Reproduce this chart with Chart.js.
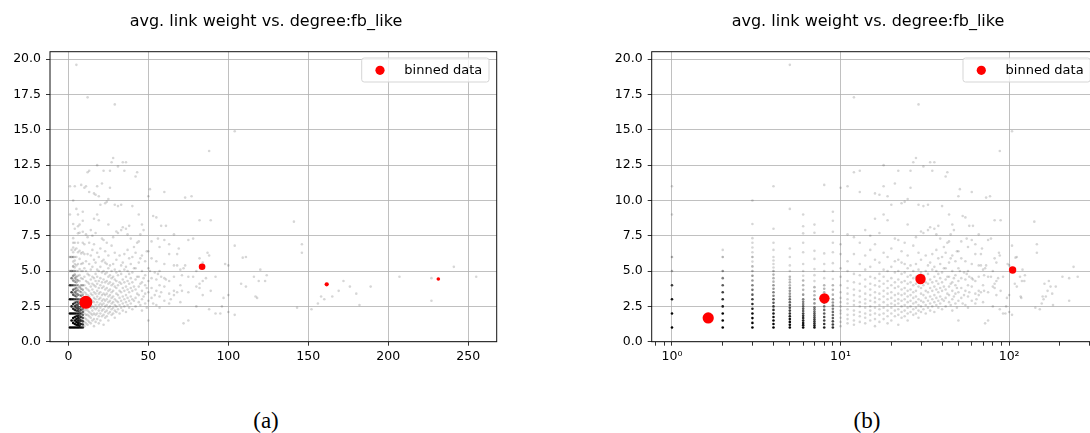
<!DOCTYPE html>
<html>
<head>
<meta charset="utf-8">
<script src="https://cdn.jsdelivr.net/npm/chart.js@4"></script>
<style>
  body { margin: 0; width: 1090px; height: 433px; overflow: hidden; background: #fff; position: relative; font-family: "DejaVu Sans", sans-serif; }
  .panel { position: absolute; top: 0; }
  .title { position: absolute; top: 13px; font-size: 16px; line-height: 16px; white-space: nowrap; transform: translateX(-50%); color: #000; }
  .caption { position: absolute; top: 409px; font-family: "Liberation Serif", serif; font-size: 23px; line-height: 23px; transform: translateX(-50%); color: #000; }
</style>
</head>
<body>
<div class="panel" style="left:0"><canvas id="chart-linear" width="545" height="380"></canvas></div>
<div class="panel" style="left:545px"><canvas id="chart-log" width="560" height="380"></canvas></div>
<div class="title" style="left:266px">avg. link weight vs. degree:fb_like</div>
<div class="title" style="left:868px">avg. link weight vs. degree:fb_like</div>
<div class="caption" style="left:266px">(a)</div>
<div class="caption" style="left:867px">(b)</div>
<script>
const yTicks = [0, 2.5, 5, 7.5, 10, 12.5, 15, 17.5, 20];
const linearTicks = [0, 50, 100, 150, 200, 250];
const logMajorTicks = [1, 10, 100];
const logMinorTicks = [0.8, 0.9, 2, 3, 4, 5, 6, 7, 8, 9, 20, 30, 40, 50, 60, 70, 80, 90, 200, 300];
const logTickLabels = { 1: "10\u2070", 10: "10\u00b9", 100: "10\u00b2" };

// red markers: linear degree bins (a) and log-spaced degree bins (b)
const linearBinDegree = [10.9, 83.6, 161.5, 231.3];
const linearBinWeight = [2.79, 5.31, 4.06, 4.44];
const logBinDegree = [1.64, 8.02, 29.8, 104.8];
const logBinWeight = [1.68, 3.07, 4.44, 5.08];

// low degree nodes pile up on the same spots: [degree, avg weight, nodes there]
const stackedNodes = [
  [1,1,40],[1,2,20],[1,3,14],[1,4,8],[1,5,2],[1,6,2],[1,9,1],[1,11,1],
  [2,1,45],[2,1.5,30],[2,2,28],[2,2.5,12],[2,3,10],[2,3.5,8],[2,4,6],[2,4.5,4],[2,5,3],[2,6,2],[2,6.5,1],
  [3,1,35],[3,1.33,25],[3,1.67,22],[3,2,18],[3,2.33,12],[3,2.67,10],[3,3,8],[3,3.33,6],[3,3.67,5],[3,4,4],[3,4.33,3],
  [3,4.67,3],[3,5,2],[3,5.33,2],[3,5.67,1],[3,6,2],[3,6.33,1],[3,6.67,1],[3,7,1],[3,7.33,1],[3,8.33,1],[3,10,1],
  [4,1,30],[4,1.25,22],[4,1.5,20],[4,1.75,15],[4,2,13],[4,2.25,10],[4,2.5,8],[4,2.75,6],[4,3,6],[4,3.25,4],[4,3.5,4],
  [4,3.75,3],[4,4,3],[4,4.25,2],[4,4.5,2],[4,4.75,2],[4,5,2],[4,5.25,1],[4,5.5,1],[4,5.75,1],[4,6,1],[4,6.5,1],[4,7,1],[4,8,1],[4,11,1],
  [5,1,25],[5,1.2,20],[5,1.4,18],[5,1.6,15],[5,1.8,12],[5,2,10],[5,2.2,8],[5,2.4,7],[5,2.6,6],[5,2.8,5],[5,3,5],[5,3.2,4],
  [5,3.4,3],[5,3.6,3],[5,3.8,3],[5,4,2],[5,4.2,2],[5,4.4,2],[5,4.6,2],[5,5,1],[5,5.4,1],[5,6,1],[5,6.6,1],[5,9.4,1],[5,19.6,1],
  [6,1,20],[6,1.17,15],[6,1.33,14],[6,1.5,12],[6,1.67,10],[6,1.83,9],[6,2,8],[6,2.17,6],[6,2.33,6],[6,2.5,5],[6,2.67,4],[6,2.83,4],
  [6,3,4],[6,3.33,3],[6,3.67,2],[6,4,2],[6,4.33,2],[6,4.67,1],[6,5,1],[6,5.5,1],[6,6.33,1],[6,7,1],[6,7.67,1],[6,8.17,1],[6,9,1],
  [7,1,15],[7,1.14,12],[7,1.29,10],[7,1.43,9],[7,1.57,8],[7,1.71,7],[7,1.86,6],[7,2,6],[7,2.14,5],[7,2.29,4],[7,2.43,4],[7,2.71,3],
  [7,3,3],[7,3.29,2],[7,3.57,2],[7,3.86,2],[7,4.29,1],[7,4.71,1],[7,5.14,1],[7,5.86,1],[7,6.43,1],[7,7.71,1],[7,8.29,1],
  [8,1,12],[8,1.25,9],[8,1.5,8],[8,1.75,7],[8,2,6],[8,2.25,5],[8,2.5,4],[8,2.75,4],[8,3,3],[8,3.25,3],[8,3.5,2],[8,3.75,2],
  [8,4,2],[8,4.5,1],[8,5,1],[8,5.5,1],[8,6.25,1],[8,11.1,1],
  [9,1,10],[9,1.22,8],[9,1.44,7],[9,1.67,6],[9,1.89,5],[9,2.11,5],[9,2.33,4],[9,2.56,4],[9,2.78,3],[9,3,3],[9,3.33,2],[9,3.67,2],
  [9,4,2],[9,4.44,1],[9,5,1],[9,5.56,1],[9,6.33,1],[9,7,1],[9,7.78,1],[9,8.56,1],[9,9.2,1],
];

// everything else: [degree, avg weight]
const scatterNodes = [
  [10,1.1],[10,1.4],[10,1.7],[10,2.0],[10,2.2],[10,2.5],[10,2.8],[10,3.1],[10,3.5],[10,4.0],[10,4.6],[10,5.2],[10,6.2],[10,6.9],[10,10.9],
  [11,1.3],[11,1.6],[11,1.9],[11,2.3],[11,2.7],[11,3.0],[11,3.4],[11,3.8],[11,4.3],[11,5.0],[11,5.7],[11,7.6],[11,11.0],
  [12,1.2],[12,1.5],[12,1.9],[12,2.2],[12,2.6],[12,2.9],[12,3.3],[12,3.7],[12,4.2],[12,4.8],[12,6.2],[12,7.4],[12,12.0],[12,17.3],
  [13,1.4],[13,1.8],[13,2.1],[13,2.5],[13,2.8],[13,3.2],[13,3.6],[13,4.1],[13,4.7],[13,5.5],[13,7.0],[13,10.6],[13,12.1],
  [14,1.3],[14,1.7],[14,2.0],[14,2.4],[14,2.7],[14,3.0],[14,3.4],[14,3.9],[14,4.4],[14,5.1],[14,6.1],[14,7.9],
  [15,1.5],[15,1.9],[15,2.2],[15,2.5],[15,2.9],[15,3.3],[15,3.7],[15,4.1],[15,4.6],[15,5.3],[15,6.5],[15,7.5],
  [16,1.1],[16,1.6],[16,2.0],[16,2.4],[16,2.8],[16,3.1],[16,3.5],[16,4.0],[16,4.5],[16,5.8],[16,6.9],[16,8.7],[16,10.5],
  [17,1.4],[17,1.9],[17,2.3],[17,2.6],[17,3.0],[17,3.4],[17,3.9],[17,4.3],[17,4.8],[17,5.6],[17,7.7],[17,10.4],
  [18,1.6],[18,2.0],[18,2.4],[18,2.8],[18,3.2],[18,3.6],[18,4.1],[18,4.6],[18,5.1],[18,6.3],[18,9.0],[18,11.0],[18,12.5],
  [19,1.3],[19,1.8],[19,2.2],[19,2.6],[19,3.0],[19,3.4],[19,3.8],[19,4.3],[19,5.0],[19,6.0],[19,8.6],[19,10.3],
  [20,1.5],[20,2.0],[20,2.4],[20,2.7],[20,3.1],[20,3.5],[20,4.0],[20,4.5],[20,5.3],[20,6.6],[20,9.7],
  [21,1.8],[21,2.2],[21,2.6],[21,2.9],[21,3.3],[21,3.8],[21,4.2],[21,4.9],[21,5.7],[21,7.3],[21,11.2],
  [22,1.2],[22,1.9],[22,2.3],[22,2.7],[22,3.0],[22,3.4],[22,3.9],[22,4.4],[22,5.0],[22,5.8],[22,7.2],[22,12.1],
  [23,1.7],[23,2.1],[23,2.5],[23,2.9],[23,3.3],[23,3.7],[23,4.2],[23,4.8],[23,5.6],[23,6.4],[23,9.8],
  [24,1.8],[24,2.2],[24,2.6],[24,3.0],[24,3.4],[24,3.8],[24,4.3],[24,4.9],[24,5.5],[24,7.0],[24,9.9],
  [25,1.5],[25,2.0],[25,2.4],[25,2.8],[25,3.2],[25,3.6],[25,4.1],[25,4.6],[25,5.2],[25,6.1],[25,8.3],[25,10.1],
  [26,2.1],[26,2.5],[26,2.9],[26,3.3],[26,3.7],[26,4.2],[26,4.7],[26,5.4],[26,10.9],[26,12.1],
  [27,1.9],[27,2.3],[27,2.7],[27,3.1],[27,3.5],[27,4.0],[27,4.5],[27,5.0],[27,6.8],[27,12.7],
  [28,2.0],[28,2.4],[28,2.8],[28,3.2],[28,3.6],[28,4.1],[28,4.6],[28,5.5],[28,7.4],[28,13.0],
  [29,1.7],[29,2.2],[29,2.6],[29,3.0],[29,3.9],[29,4.4],[29,5.1],[29,6.3],[29,9.7],[29,16.8],
  [30,2.1],[30,2.5],[30,2.9],[30,3.4],[30,3.8],[30,4.3],[30,4.9],[30,5.8],[30,7.8],
  [31,2.3],[31,2.8],[31,3.3],[31,4.0],[31,4.7],[31,7.7],[31,9.6],[31,12.4],
  [32,2.0],[32,2.6],[32,3.1],[32,3.6],[32,4.2],[32,5.0],[32,6.1],
  [33,2.4],[33,2.9],[33,3.5],[33,4.1],[33,4.8],[33,5.4],[33,7.9],[33,9.7],
  [34,2.2],[34,2.7],[34,3.2],[34,3.8],[34,4.4],[34,5.6],[34,8.1],[34,12.7],
  [35,2.5],[35,3.0],[35,3.6],[35,4.2],[35,5.1],[35,6.2],[35,12.1],
  [36,2.1],[36,2.8],[36,3.3],[36,3.9],[36,4.6],[36,5.3],[36,8.0],[36,12.7],
  [37,2.6],[37,3.1],[37,3.7],[37,4.3],[37,5.0],[37,6.5],[37,7.6],
  [38,2.4],[38,2.9],[38,3.5],[38,4.1],[38,4.8],[38,5.9],[38,8.2],
  [39,2.7],[39,3.2],[39,3.8],[39,4.5],[39,5.5],[39,7.3],
  [40,2.3],[40,3.0],[40,3.6],[40,4.2],[40,4.9],[40,6.0],[40,9.6],
  [41,2.9],[41,3.9],[41,5.2],[41,6.7],
  [42,2.5],[42,3.1],[42,3.7],[42,4.4],[42,5.2],[42,6.3],[42,11.7],
  [43,3.4],[43,4.6],[43,7.0],[43,12.0],
  [44,2.8],[44,3.3],[44,3.9],[44,4.6],[44,5.6],[44,7.1],[44,9.0],
  [45,2.6],[45,4.1],[45,5.9],[45,7.6],
  [46,2.2],[46,3.0],[46,3.6],[46,4.2],[46,5.0],[46,6.1],[46,8.3],
  [47,3.2],[47,4.5],[47,7.9],
  [48,2.7],[48,3.4],[48,4.0],[48,4.7],[48,5.7],
  [49,2.4],[49,3.8],[49,6.4],
  [50,1.5],[50,2.9],[50,3.5],[50,4.3],[50,5.2],[50,6.4],[50,10.3],
  [51,5.0],[51,10.8],[52,3.1],[52,3.8],[52,4.5],[52,5.9],[52,7.1],
  [53,8.9],[53,2.7],[54,3.3],[54,4.9],
  [55,2.6],[55,3.6],[55,4.4],[55,5.7],[55,8.8],[56,4.8],[56,7.3],
  [57,2.4],[57,3.2],[57,4.0],[57,5.0],[57,6.7],[58,3.5],[58,4.6],[58,8.2],
  [60,2.9],[60,3.9],[60,4.5],[60,5.5],[60,7.2],[60,10.6],[61,4.4],[61,8.2],
  [63,2.7],[63,3.4],[63,4.3],[63,6.2],[63,6.9],[64,3.0],
  [66,3.3],[66,3.6],[66,4.6],[66,5.4],[66,7.6],[68,3.5],[68,5.4],[68,6.2],[69,6.6],
  [70,2.8],[70,4.0],[70,5.1],[71,3.6],[71,4.7],[72,1.3],[72,5.2],[73,5.4],[73,10.2],
  [75,1.5],[75,3.5],[75,4.6],[75,7.2],[77,10.3],[78,4.6],[78,7.3],
  [80,2.5],[80,3.9],[80,5.0],[82,3.8],[82,4.1],[82,5.9],[82,8.6],
  [84,3.3],[84,4.3],[84,5.6],[86,4.5],[87,6.3],[88,2.3],[88,6.1],[88,13.5],[89,3.6],[89,8.6],
  [92,2.0],[92,4.6],[95,2.0],[96,2.5],[97,3.1],[98,5.5],[100,2.1],[100,3.3],[100,5.4],
  [104,1.9],[104,6.8],[104,14.9],[108,4.1],[109,5.95],[111,3.9],[111,6.0],
  [116,4.6],[117,3.2],[118,3.1],[119,4.3],[120,5.1],[123,4.3],[124,4.7],
  [141,8.5],[143,2.4],[146,6.9],[146,6.3],[152,2.3],[156,2.7],[158,3.2],[160,3.0],[162,4.1],[165,3.2],
  [169,3.6],[172,4.3],[176,3.9],[180,3.4],[182,2.6],[189,3.9],
  [207,4.6],[227,2.9],[227,4.5],[241,5.3],[255,4.6],
];

// styling
const dotAlpha = 0.16;
const linearBinRadius = [6.5, 3.3, 2.1, 1.8];
const logBinRadius = [5.6, 5.2, 5.2, 3.7];
const gridColor = "#b0b0b0";

Chart.defaults.font.family = "'DejaVu Sans', sans-serif";
Chart.defaults.font.size = 12.5;
Chart.defaults.color = "#000";

// spines on all four sides plus matplotlib-style legend inside the axes
const frameAndLegend = {
  id: "frameAndLegend",
  afterDraw(chart) {
    const { ctx, chartArea: a } = chart;
    ctx.save();
    ctx.strokeStyle = "#111";
    ctx.lineWidth = 1;
    ctx.strokeRect(a.left, a.top, a.right - a.left, a.bottom - a.top);

    const w = 127.3, h = 24;
    const x = a.right - 7.7 - w, y = a.top + 6.3;
    ctx.beginPath();
    ctx.roundRect(x, y, w, h, 2.5);
    ctx.fillStyle = "rgba(255,255,255,0.8)";
    ctx.fill();
    ctx.strokeStyle = "#d5d5d5";
    ctx.stroke();
    ctx.fillStyle = "red";
    ctx.beginPath();
    ctx.arc(x + 18.3, y + 12.3, 4.6, 0, Math.PI * 2);
    ctx.fill();
    ctx.fillStyle = "#000";
    ctx.font = "13px 'DejaVu Sans'";
    ctx.textBaseline = "middle";
    ctx.fillText(chart.data.datasets[0].label, x + 42.6, y + 12.5);
    ctx.restore();
  },
};

function grayDatasets() {
  return [
    {
      data: stackedNodes.map(([x, y]) => ({ x, y })),
      pointBackgroundColor: stackedNodes.map(([, , n]) => `rgba(0,0,0,${(1 - Math.pow(1 - dotAlpha, n)).toFixed(3)})`),
      pointRadius: 1.3,
      pointBorderWidth: 0,
    },
    {
      data: scatterNodes.map(([x, y]) => ({ x, y })),
      pointBackgroundColor: `rgba(0,0,0,${dotAlpha})`,
      pointRadius: 1.3,
      pointBorderWidth: 0,
    },
  ];
}

function yScale() {
  return {
    min: 0,
    max: 20.53,
    afterBuildTicks: (s) => { s.ticks = yTicks.map((value) => ({ value })); },
    afterFit: (s) => { s.width = 50; },
    ticks: { callback: (v) => v.toFixed(1), padding: 5, autoSkip: false },
    grid: { color: gridColor, lineWidth: 0.8, tickColor: "#000", tickLength: 4 },
    border: { display: false },
  };
}

new Chart(document.getElementById("chart-linear"), {
  type: "scatter",
  data: {
    datasets: [
      {
        label: "binned data",
        data: linearBinDegree.map((x, i) => ({ x, y: linearBinWeight[i] })),
        pointBackgroundColor: "red",
        pointRadius: linearBinRadius,
        pointBorderWidth: 0,
      },
      ...grayDatasets(),
    ],
  },
  options: {
    responsive: false,
    animation: false,
    events: [],
    layout: { padding: { left: 0, top: 51.7, right: 48.3, bottom: 8.3 } },
    plugins: { legend: { display: false }, tooltip: { enabled: false } },
    scales: {
      x: {
        type: "linear",
        min: -11.5,
        max: 267.8,
        afterBuildTicks: (s) => { s.ticks = linearTicks.map((value) => ({ value })); },
        afterFit: (s) => { s.height = 30; },
        ticks: { callback: (v) => String(v), padding: 4, maxRotation: 0, autoSkip: false },
        grid: { color: gridColor, lineWidth: 0.8, tickColor: "#000", tickLength: 4 },
        border: { display: false },
      },
      y: yScale(),
    },
  },
  plugins: [frameAndLegend],
});

new Chart(document.getElementById("chart-log"), {
  type: "scatter",
  data: {
    datasets: [
      {
        label: "binned data",
        data: logBinDegree.map((x, i) => ({ x, y: logBinWeight[i] })),
        pointBackgroundColor: "red",
        pointRadius: logBinRadius,
        pointBorderWidth: 0,
      },
      ...grayDatasets(),
    ],
  },
  options: {
    responsive: false,
    animation: false,
    events: [],
    layout: { padding: { left: 56.7, top: 51.7, right: 7, bottom: 8.3 } },
    plugins: { legend: { display: false }, tooltip: { enabled: false } },
    scales: {
      x: {
        type: "logarithmic",
        min: 0.758,
        max: 336.5,
        afterBuildTicks: (s) => {
          s.ticks = [...logMajorTicks, ...logMinorTicks].sort((p, q) => p - q).map((value) => ({ value }));
        },
        afterFit: (s) => { s.height = 30; },
        ticks: { callback: (v) => logTickLabels[v] || "", padding: 4, maxRotation: 0, autoSkip: false },
        grid: {
          color: (c) => (logMajorTicks.includes(c.tick && c.tick.value) ? gridColor : "rgba(0,0,0,0)"),
          lineWidth: 0.8,
          tickColor: "#000",
          tickLength: 4,
        },
        border: { display: false },
      },
      y: yScale(),
    },
  },
  plugins: [frameAndLegend],
});
</script>
</body>
</html>
